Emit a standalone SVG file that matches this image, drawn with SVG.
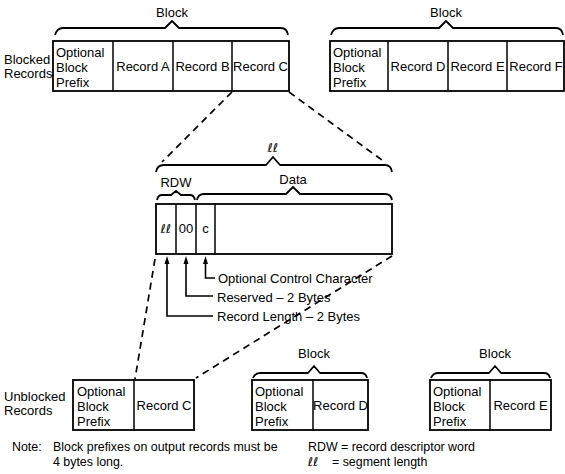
<svg xmlns="http://www.w3.org/2000/svg" width="565" height="474" viewBox="0 0 565 474">
<style>
text{font-family:"Liberation Sans",Arial,sans-serif;font-size:13px;fill:#000}
.m{text-anchor:middle}
.n{font-size:12.4px}
.box{fill:#fff;stroke:#000;stroke-width:1.8}
.div{stroke:#000;stroke-width:1.5}
.brace{fill:none;stroke:#000;stroke-width:1.8;stroke-linejoin:round}
.dash{fill:none;stroke:#000;stroke-width:1.7;stroke-dasharray:7 5}
.ln{fill:none;stroke:#000;stroke-width:1.6}
.ah{fill:#000}
.ll{font-family:"DejaVu Sans",sans-serif;font-style:italic;font-size:12.5px}
</style>

<g id="labels">
<text x="4" y="64">Blocked</text>
<text x="4" y="78">Records</text>
<text x="4" y="401">Unblocked</text>
<text x="4" y="415">Records</text>
</g>

<g id="block1">
<text class="m" x="172" y="17">Block</text>
<path class="brace" d="M55,35 Q57,28 63,28 L165,28 L172,21 L179,28 L281,28 Q287,28 288,35"/>
<rect class="box" x="53" y="41" width="236" height="50"/>
<line class="div" x1="113" y1="41" x2="113" y2="91"/>
<line class="div" x1="173" y1="41" x2="173" y2="91"/>
<line class="div" x1="232" y1="41" x2="232" y2="91"/>
<text x="56" y="57">Optional</text>
<text x="56" y="72">Block</text>
<text x="56" y="87">Prefix</text>
<text class="m" x="143" y="71">Record A</text>
<text class="m" x="202.5" y="71">Record B</text>
<text class="m" x="260.5" y="71">Record C</text>
</g>

<g id="block2">
<text class="m" x="446" y="17">Block</text>
<path class="brace" d="M331,35 Q333,28 339,28 L439,28 L446,21 L453,28 L556,28 Q562,28 563,35"/>
<rect class="box" x="330" y="41" width="234" height="50"/>
<line class="div" x1="388" y1="41" x2="388" y2="91"/>
<line class="div" x1="448" y1="41" x2="448" y2="91"/>
<line class="div" x1="507" y1="41" x2="507" y2="91"/>
<text x="333" y="57">Optional</text>
<text x="333" y="72">Block</text>
<text x="333" y="87">Prefix</text>
<text class="m" x="418" y="71">Record D</text>
<text class="m" x="477.5" y="71">Record E</text>
<text class="m" x="536" y="71">Record F</text>
</g>

<g id="record">
<text class="m ll" x="273" y="152">ℓℓ</text>
<path class="brace" d="M156,172 Q157,165 164,165 L266,165 L273,157 L280,165 L385,165 Q391,165 392,172"/>
<text class="m" x="176" y="187">RDW</text>
<path class="brace" d="M157,200 Q158,195 162,195 L171,195 L176,191 L181,195 L190,195 Q194,195 195,200"/>
<text class="m" x="293" y="184">Data</text>
<path class="brace" d="M197,200 Q198,194 204,194 L286,194 L293,187 L300,194 L385,194 Q391,194 392,200"/>
<rect class="box" x="156" y="204" width="236" height="50"/>
<line class="div" x1="176" y1="204" x2="176" y2="254"/>
<line class="div" x1="196" y1="204" x2="196" y2="254"/>
<line class="div" x1="215" y1="204" x2="215" y2="254"/>
<text class="m ll" x="166" y="233">ℓℓ</text>
<text class="m" x="186" y="233">00</text>
<text class="m" x="205.5" y="233">c</text>
</g>

<g id="callouts">
<text x="218" y="283">Optional Control Character</text>
<text x="217" y="302">Reserved – 2 Bytes</text>
<text x="217" y="321">Record Length – 2 Bytes</text>
</g>

<g id="block3">
<rect class="box" x="73" y="380" width="121" height="50"/>
<line class="div" x1="134" y1="380" x2="134" y2="430"/>
<text x="77" y="396">Optional</text>
<text x="77" y="411">Block</text>
<text x="77" y="426">Prefix</text>
<text class="m" x="164" y="410">Record C</text>
</g>

<g id="block4">
<text class="m" x="314" y="358">Block</text>
<path class="brace" d="M253,378 Q255,373 260,373 L308,373 L314,366 L320,373 L361,373 Q366,373 367,378"/>
<rect class="box" x="252" y="380" width="116" height="50"/>
<line class="div" x1="313" y1="380" x2="313" y2="430"/>
<text x="255" y="396">Optional</text>
<text x="255" y="411">Block</text>
<text x="255" y="426">Prefix</text>
<text class="m" x="340.5" y="410">Record D</text>
</g>

<g id="block5">
<text class="m" x="495" y="358">Block</text>
<path class="brace" d="M431,378 Q433,373 438,373 L489,373 L495,366 L501,373 L544,373 Q549,373 550,378"/>
<rect class="box" x="430" y="380" width="121" height="50"/>
<line class="div" x1="490" y1="380" x2="490" y2="430"/>
<text x="433" y="396">Optional</text>
<text x="433" y="411">Block</text>
<text x="433" y="426">Prefix</text>
<text class="m" x="520.5" y="410">Record E</text>
</g>

<g id="connectors">
<path class="dash" d="M232,92 L162,162"/>
<path class="dash" d="M289,92 L386,163"/>
<path class="dash" d="M155,259 L135,379"/>
<path class="dash" d="M392,256 L196,378"/>
<path class="ln" d="M213,316 L167,316 L167,261"/>
<path class="ln" d="M213,296 L186,296 L186,261"/>
<path class="ln" d="M215,278 L205.5,278 L205.5,261"/>
<polygon class="ah" points="164.5,264 167,256 169.5,264"/>
<polygon class="ah" points="183.5,264 186,256 188.5,264"/>
<polygon class="ah" points="203,264 205.5,256 208,264"/>
</g>

<g id="notes">
<text class="n" x="12" y="451">Note:</text>
<text class="n" x="53" y="451">Block prefixes on output records must be</text>
<text class="n" x="53" y="466">4 bytes long.</text>
<text class="n" x="308" y="451">RDW = record descriptor word</text>
<text class="ll" x="308" y="466">ℓℓ</text>
<text class="n" x="332" y="466">= segment length</text>
</g>
</svg>
